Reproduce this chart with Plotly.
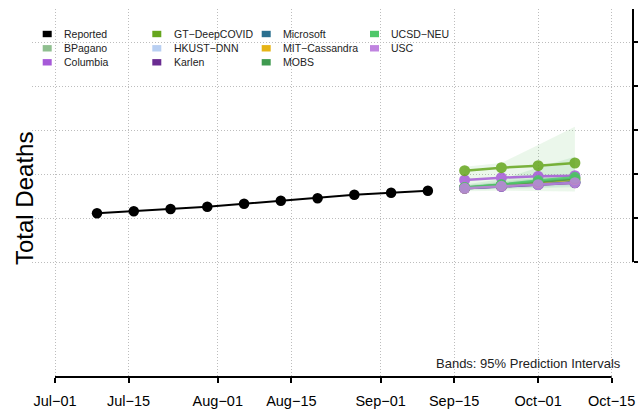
import plotly.graph_objects as go

# ---------------- data ----------------
reported_dates = ["2020-07-09", "2020-07-16", "2020-07-23", "2020-07-30", "2020-08-06",
                  "2020-08-13", "2020-08-20", "2020-08-27", "2020-09-03", "2020-09-10"]
reported_vals = [1107, 1152, 1205, 1257, 1325, 1393, 1448, 1530, 1575, 1620]

forecast_dates = ["2020-09-17", "2020-09-24", "2020-10-01", "2020-10-08"]

models = ["BPagano", "Columbia", "GT-DeepCOVID", "HKUST-DNN", "Karlen", "Microsoft",
          "MIT-Cassandra", "MOBS", "UCSD-NEU", "USC"]
model_labels = ["BPagano", "Columbia", "GT\u2212DeepCOVID", "HKUST\u2212DNN", "Karlen",
                "Microsoft", "MIT\u2212Cassandra", "MOBS", "UCSD\u2212NEU", "USC"]
model_colors = ["#8fbf8f", "#a65ad8", "#66a61e", "#b8cff2", "#6a2c91", "#2a6f8f",
                "#e6b416", "#3f9a4f", "#4fc76a", "#c084e0"]

forecast_vals = {
    "BPagano":       [1680, 1722, 1762, 1805],
    "Columbia":      [1864, 1916, 1948, 1961],
    "GT-DeepCOVID":  [2075, 2143, 2189, 2250],
    "HKUST-DNN":     [1685, 1730, 1775, 1820],
    "Karlen":        [1675, 1718, 1760, 1800],
    "Microsoft":     [1678, 1725, 1770, 1818],
    "MIT-Cassandra": [1680, 1740, 1800, 1875],
    "MOBS":          [1690, 1750, 1820, 1890],
    "UCSD-NEU":      [1695, 1760, 1850, 1925],
    "USC":           [1675, 1720, 1757, 1802],
}

band_models = ["GT-DeepCOVID", "UCSD-NEU", "HKUST-DNN", "MOBS"]
band_lower = {
    "GT-DeepCOVID": [1610, 1620, 1610, 1600],
    "UCSD-NEU":     [1640, 1660, 1680, 1700],
    "HKUST-DNN":    [1640, 1670, 1700, 1730],
    "MOBS":         [1650, 1690, 1740, 1780],
}
band_upper = {
    "GT-DeepCOVID": [2166, 2250, 2659, 3075],
    "UCSD-NEU":     [1760, 1880, 2150, 2390],
    "HKUST-DNN":    [1740, 1800, 1860, 1920],
    "MOBS":         [1740, 1820, 1900, 1990],
}
band_rgb = {
    "GT-DeepCOVID": (120, 200, 120),
    "UCSD-NEU": (90, 190, 110),
    "HKUST-DNN": (150, 180, 235),
    "MOBS": (70, 160, 90),
}

x_tickvals = ["2020-07-01", "2020-07-15", "2020-08-01", "2020-08-15",
              "2020-09-01", "2020-09-15", "2020-10-01", "2020-10-15"]
x_ticktext = ["Jul\u221201", "Jul\u221215", "Aug\u221201", "Aug\u221215",
              "Sep\u221201", "Sep\u221215", "Oct\u221201", "Oct\u221215"]
y_tickvals = [0, 1000, 2000, 3000, 4000, 5000]

legend_labels = ["Reported"] + model_labels
legend_colors = ["#000000"] + model_colors

# ---------------- layout geometry ----------------
W, H = 638, 414
PL, PR, PT, PB = 32, 633, 9, 377          # plot area in window pixels
ML, MT = PL, PT
MR, MB = W - PR, H - PB
PW, PH = PR - PL, PB - PT
FONT = "Liberation Sans, Arial, sans-serif"
GRID = dict(showgrid=True, gridcolor="#bdbdbd", griddash="1px,2px", gridwidth=1)


def px_x(px):
    return (px - PL) / PW


def px_y(py):
    return (PB - py) / PH


fig = go.Figure()

# bands
for m in band_models:
    r, g, b = band_rgb[m]
    fig.add_trace(go.Scatter(
        x=forecast_dates + forecast_dates[::-1],
        y=band_upper[m] + band_lower[m][::-1],
        fill="toself", fillcolor=f"rgba({r},{g},{b},0.15)",
        line=dict(width=0), mode="lines", showlegend=False, hoverinfo="skip"))

# forecast lines
for m, c in zip(models, model_colors):
    fig.add_trace(go.Scatter(
        x=forecast_dates, y=forecast_vals[m], mode="lines+markers",
        line=dict(color=c, width=2.5), marker=dict(color=c, size=11),
        opacity=0.85, showlegend=False, name=m))

# reported
fig.add_trace(go.Scatter(
    x=reported_dates, y=reported_vals, mode="lines+markers",
    line=dict(color="#000000", width=2), marker=dict(color="#000000", size=10.5),
    showlegend=False, name="Reported"))

shapes = []
annotations = []

# x axis line (only between first and last tick)
shapes.append(dict(type="line", xref="x", yref="paper", x0=x_tickvals[0], x1=x_tickvals[-1],
                   y0=0, y1=0, line=dict(color="black", width=2)))
# right y axis line
shapes.append(dict(type="line", xref="paper", yref="y", x0=1, x1=1,
                   y0=y_tickvals[0], y1=5750, line=dict(color="black", width=2)))

# manual legend (4 columns x 3 rows)
col_sq_x = [42.7, 152.3, 261.7, 370.0]
col_tx_x = [62.0, 171.5, 280.5, 389.0]
row_y = [34.0, 48.3, 62.3]
for i, (lab, col) in enumerate(zip(legend_labels, legend_colors)):
    c, r = divmod(i, 3)
    sx, ty = col_sq_x[c], row_y[r]
    shapes.append(dict(type="rect", xref="paper", yref="paper",
                       x0=px_x(sx), x1=px_x(sx + 9), y0=px_y(ty + 3.2), y1=px_y(ty - 3.2),
                       fillcolor=col, line=dict(width=0)))
    annotations.append(dict(xref="paper", yref="paper", x=px_x(col_tx_x[c]), y=px_y(ty),
                            xanchor="left", yanchor="middle", showarrow=False, text=lab,
                            font=dict(family=FONT, size=10.5, color="#222222")))

annotations.append(dict(xref="paper", yref="paper", x=px_x(623), y=px_y(363),
                        xanchor="right", yanchor="middle", showarrow=False,
                        text="Bands: 95% Prediction Intervals",
                        font=dict(family=FONT, size=13, color="#222222")))
annotations.append(dict(xref="paper", yref="paper", x=px_x(24), y=px_y(199),
                        xanchor="center", yanchor="middle", showarrow=False, textangle=-90,
                        text="Total Deaths", font=dict(family=FONT, size=24, color="black")))

fig.update_layout(
    width=W, height=H,
    margin=dict(l=ML, r=MR, t=MT, b=MB, pad=0),
    paper_bgcolor="white", plot_bgcolor="white",
    showlegend=False,
    shapes=shapes, annotations=annotations,
    font=dict(family=FONT, color="black"),
    xaxis=dict(
        type="date", range=["2020-06-26 14:50", "2020-10-19 01:30"],
        tickmode="array", tickvals=x_tickvals, ticktext=x_ticktext,
        ticks="outside", ticklen=5, tickwidth=1.5, tickcolor="black",
        ticklabelstandoff=6,
        tickfont=dict(family=FONT, size=14.5, color="black"),
        showline=False, zeroline=False, automargin=False, **GRID),
    yaxis=dict(
        range=[-2613.6, 5750], side="right",
        tickmode="array", tickvals=y_tickvals, showticklabels=False,
        ticks="outside", ticklen=5, tickwidth=2, tickcolor="black",
        showline=False, zeroline=False, automargin=False, **GRID),
)

fig.write_html(
    "out.html",
    config={"displayModeBar": False},
    post_script="document.body.style.margin='0px';"
                "document.documentElement.style.overflow='hidden';"
                "document.body.style.overflow='hidden';",
)
